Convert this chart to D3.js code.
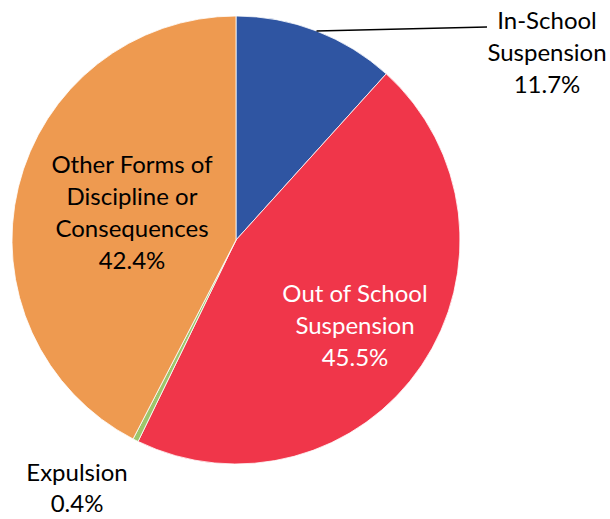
<!DOCTYPE html>
<html><head><meta charset="utf-8">
<script src="https://cdn.jsdelivr.net/npm/d3@7"></script>
<style>body{margin:0;background:#fff}svg{display:block}</style>
</head><body>
<svg id="c" width="610" height="519"></svg>
<script>
const categories = ["In-School Suspension","Out of School Suspension","Expulsion","Other Forms of Discipline or Consequences"];
const values = [11.7, 45.5, 0.4, 42.4];
const labelLines = [["In-School","Suspension","11.7%"],["Out of School","Suspension","45.5%"],["Expulsion","0.4%"],["Other Forms of","Discipline or","Consequences","42.4%"]];
const colors = ["#2F55A2","#F0364A","#9DC66B","#EE9A50"];

const svg = d3.select("#c");
const cx = 236, cy = 240, r = 224;
const g = svg.append("g").attr("transform",`translate(${cx},${cy})`);
const pie = d3.pie().sort(null).value(d=>d)(values);
const arc = d3.arc().innerRadius(0).outerRadius(r);
g.selectAll("path").data(pie).join("path")
  .attr("d",arc).attr("fill",(d,i)=>colors[i])
  .attr("stroke","#fff").attr("stroke-width",0.8);

// leader line for In-School
const a0 = pie[0];
const ang = (a0.startAngle+a0.endAngle)/2;
const px = cx + r*Math.sin(ang), py = cy - r*Math.cos(ang);
svg.append("path").attr("d",`M${px},${py}L487,27`).attr("stroke","#000").attr("stroke-width",1.5).attr("fill","none");

const font = "Lato, 'Open Sans', sans-serif";
const pos = [[547,29,"#000"],[355,302,"#fff"],[77,481,"#000"],[132,173,"#000"]];
labelLines.forEach((lines,i)=>{
  const t = svg.append("text").attr("x",pos[i][0]).attr("y",pos[i][1])
    .attr("text-anchor","middle").attr("font-family",font).attr("font-size",24).attr("fill",pos[i][2]);
  lines.forEach((l,j)=>t.append("tspan").attr("x",pos[i][0]).attr("dy",j?(i===2?31:32):0).text(l));
});
</script>
</body></html>
